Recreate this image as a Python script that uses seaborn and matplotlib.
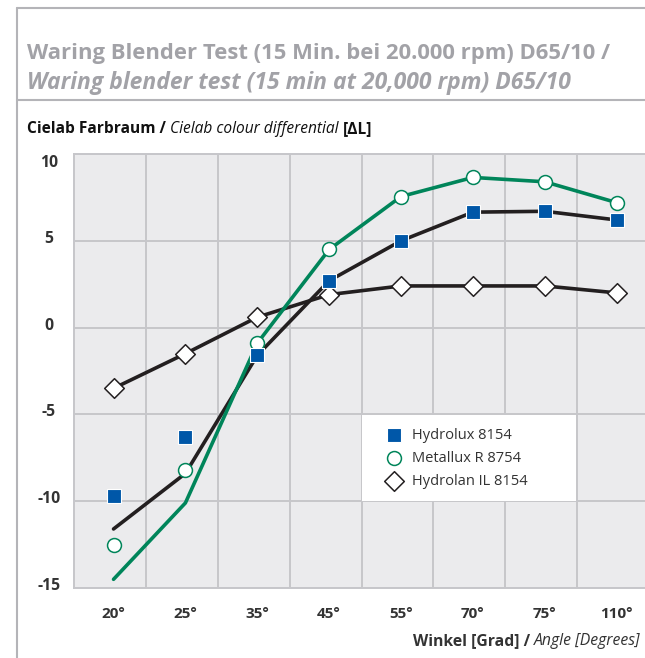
import numpy as np
import matplotlib
matplotlib.use('Agg')
import matplotlib.pyplot as plt
import seaborn as sns
from matplotlib.lines import Line2D
from matplotlib.patches import Rectangle
from matplotlib.transforms import ScaledTranslation, IdentityTransform

# Data
angles = ['20°', '25°', '35°', '45°', '55°', '70°', '75°', '110°']
hydrolux = [-9.7, -6.3, -1.6, 2.7, 5.0, 6.65, 6.7, 6.2]
hydrolux_line = [-11.6, -8.4, -1.6, 2.7, 5.0, 6.65, 6.7, 6.2]
metallux = [-12.5, -8.2, -0.9, 4.5, 7.55, 8.65, 8.4, 7.2]
metallux_line = [-14.5, -10.1, -0.9, 4.5, 7.55, 8.65, 8.4, 7.2]
hydrolan = [-3.5, -1.5, 0.6, 1.9, 2.4, 2.4, 2.4, 2.0]
series_names = ['Hydrolux 8154', 'Metallux R 8754', 'Hydrolan IL 8154']
y_ticks = [-15, -10, -5, 0, 5, 10]

BLUE = '#0057a8'
GREEN = '#00855a'
BLACK = '#231f20'
FRAME = '#b4b4b8'
TITLE_GRAY = '#a2a2a7'
TEXT = '#333333'

sns.set_theme(style='white')
plt.rcParams['font.family'] = ['Open Sans', 'DejaVu Sans']
plt.rcParams['axes.unicode_minus'] = False

W, H = 645, 658
fig = plt.figure(figsize=(W / 100, H / 100), dpi=100)
ax = fig.add_axes([74 / W, (H - 588) / H, 575 / W, 434 / H])
ax.set_facecolor('#ebebed')

pos = np.arange(len(angles))

# lines
sns.lineplot(x=pos, y=hydrolux_line, color=BLACK, lw=2.6, ax=ax, zorder=2)
sns.lineplot(x=pos, y=hydrolan, color=BLACK, lw=2.6, ax=ax, zorder=2)
sns.lineplot(x=pos, y=metallux_line, color=GREEN, lw=2.6, ax=ax, zorder=2)

# markers
sns.scatterplot(x=pos, y=hydrolan, marker='D', s=100, facecolor='white',
                edgecolor=BLACK, linewidth=1.1, ax=ax, zorder=3, label=series_names[2])
sns.scatterplot(x=pos, y=metallux, marker='o', s=100, facecolor='white',
                edgecolor=GREEN, linewidth=1.1, ax=ax, zorder=4, label=series_names[1])
sns.scatterplot(x=pos, y=hydrolux, marker='s', s=90, color=BLUE,
                edgecolor='white', linewidth=0.8, ax=ax, zorder=5, label=series_names[0])

ax.set_xlim(-0.55, 7.45)
ax.set_ylim(-15, 10)
ax.set_xticks(pos)
ax.set_xticklabels(angles)
ax.set_xticks(pos[:-1] + 0.45, minor=True)
ax.set_yticks(y_ticks)
ax.set_axisbelow(True)
ax.grid(axis='y', which='major', color='#c6c6ca', lw=1.4)
ax.grid(axis='x', which='minor', color='#c6c6ca', lw=1.4)
ax.tick_params(which='both', length=0)
ax.tick_params(axis='x', pad=13.5, labelsize=11, labelcolor=TEXT)
ax.tick_params(axis='y', pad=18, labelsize=11.3, labelcolor=TEXT)
for lab in ax.get_xticklabels() + ax.get_yticklabels():
    lab.set_fontweight('bold')
for lab in ax.get_yticklabels():
    lab.set_horizontalalignment('center')
    dy = -0.067 if lab.get_text() == '10' else 0.04
    lab.set_transform(lab.get_transform() + ScaledTranslation(0, dy, fig.dpi_scale_trans))

for side in ['left', 'bottom', 'top']:
    ax.spines[side].set_color('#c6c6ca')
    ax.spines[side].set_linewidth(1.4)
ax.spines['right'].set_visible(False)

# white legend cell
ax.add_patch(Rectangle((3.46, -9.96), 2.98, 4.92, facecolor='white',
                       edgecolor='none', zorder=1))
handles, labels = ax.get_legend_handles_labels()
order = [labels.index(n) for n in series_names]
ax.legend([handles[i] for i in order], [labels[i] for i in order],
          loc='center left', bbox_to_anchor=(386.4, H - 458.3),
          bbox_transform=IdentityTransform(), frameon=False, fontsize=10.5,
          handlelength=1.0, handletextpad=0.75, labelspacing=0.55,
          borderpad=0, borderaxespad=0, labelcolor=TEXT)

# frame lines around the chart block
for xs, ys in [([16.7, 16.7], [8.3, H]), ([16.7, W], [8.3, 8.3]), ([16.7, W], [100, 100])]:
    fig.add_artist(Line2D([x / W for x in xs], [1 - y / H for y in ys],
                          color=FRAME, lw=1.5, transform=fig.transFigure))

renderer = fig.canvas.get_renderer()


def put_parts(x_px, y_px, parts, size, color):
    probe1 = fig.text(0, 0, 'x x', fontsize=size)
    probe2 = fig.text(0, 0, 'xx', fontsize=size)
    space = (probe1.get_window_extent(renderer).width
             - probe2.get_window_extent(renderer).width)
    probe1.remove()
    probe2.remove()
    for s, weight, style in parts:
        t = fig.text(x_px / W, 1 - y_px / H, s, fontsize=size, fontweight=weight,
                     fontstyle=style, color=color, va='baseline', ha='left')
        x_px += t.get_window_extent(renderer).width + space


fig.text(27 / W, 1 - 59.3 / H, 'Waring Blender Test (15 Min. bei 20.000 rpm) D65/10 /',
         fontsize=15.8, fontweight='bold', color=TITLE_GRAY, va='baseline')
fig.text(27 / W, 1 - 89 / H, 'Waring blender test (15 min at 20,000 rpm) D65/10',
         fontsize=16.5, fontweight='bold', fontstyle='italic', color=TITLE_GRAY, va='baseline')

put_parts(27, 132.7, [('Cielab Farbraum /', 'bold', 'normal'),
                      ('Cielab colour differential', 'normal', 'italic'),
                      ('[ΔL]', 'bold', 'normal')], 11.2, '#111111')
put_parts(413, 645, [('Winkel [Grad] /', 'bold', 'normal'),
                     ('Angle [Degrees]', 'normal', 'italic')], 11.3, TEXT)

fig.savefig('out.png', dpi=100)
